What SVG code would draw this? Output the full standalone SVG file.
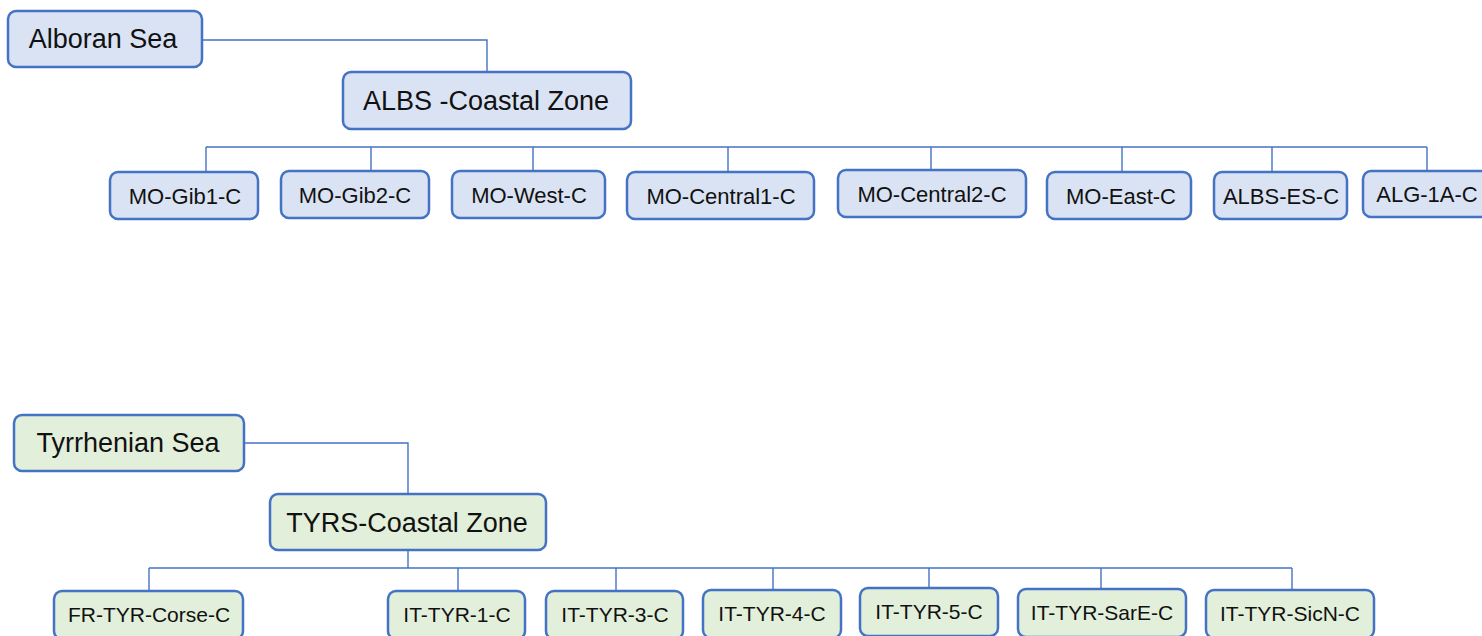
<svg xmlns="http://www.w3.org/2000/svg" width="1482" height="636" viewBox="0 0 1482 636">
<style>
.b{fill:#dae3f3;stroke:#4472c4;stroke-width:2.5}
.g{fill:#e2efda;stroke:#4472c4;stroke-width:2.5}
.t{font-family:"Liberation Sans",Arial,sans-serif;fill:#111;text-anchor:middle}
.L{font-size:27px}
.s{font-size:22px}
.s2{font-size:21px}
.c{fill:none;stroke:#4472c4;stroke-width:1.4}
</style>
<rect width="1482" height="636" fill="#fff"/>
<g id="connectors">
<polyline class="c" points="202,40 487,40 487,72"/>
<line class="c" x1="206" y1="147" x2="1427" y2="147"/>
<line class="c" x1="206" y1="147" x2="206" y2="172"/>
<line class="c" x1="371" y1="147" x2="371" y2="171"/>
<line class="c" x1="533" y1="147" x2="533" y2="171"/>
<line class="c" x1="728" y1="147" x2="728" y2="172"/>
<line class="c" x1="931" y1="147" x2="931" y2="170"/>
<line class="c" x1="1122" y1="147" x2="1122" y2="172"/>
<line class="c" x1="1272" y1="147" x2="1272" y2="172"/>
<line class="c" x1="1427" y1="147" x2="1427" y2="171"/>
<polyline class="c" points="244,443 408,443 408,494"/>
<line class="c" x1="408" y1="550" x2="408" y2="568"/>
<line class="c" x1="149" y1="568" x2="1292" y2="568"/>
<line class="c" x1="149" y1="568" x2="149" y2="591"/>
<line class="c" x1="458" y1="568" x2="458" y2="591"/>
<line class="c" x1="616" y1="568" x2="616" y2="591"/>
<line class="c" x1="773" y1="568" x2="773" y2="590"/>
<line class="c" x1="929" y1="568" x2="929" y2="588"/>
<line class="c" x1="1101" y1="568" x2="1101" y2="589"/>
<line class="c" x1="1292" y1="568" x2="1292" y2="590"/>
</g>
<g id="alboran-sea"><rect class="b" x="8" y="11" width="194" height="56" rx="8"/><text class="t L" x="103" y="48">Alboran Sea</text></g>
<g id="albs-coastal"><rect class="b" x="343" y="72" width="288" height="57" rx="8"/><text class="t L" x="486" y="110">ALBS -Coastal Zone</text></g>
<g id="mo-gib1"><rect class="b" x="110" y="172" width="148" height="47" rx="8"/><text class="t s" x="185" y="204">MO-Gib1-C</text></g>
<g id="mo-gib2"><rect class="b" x="281" y="171" width="148" height="47" rx="8"/><text class="t s" x="355" y="203">MO-Gib2-C</text></g>
<g id="mo-west"><rect class="b" x="452" y="171" width="153" height="47" rx="8"/><text class="t s" x="529" y="203">MO-West-C</text></g>
<g id="mo-central1"><rect class="b" x="627" y="172" width="187" height="47" rx="8"/><text class="t s" x="721" y="204">MO-Central1-C</text></g>
<g id="mo-central2"><rect class="b" x="838" y="170" width="188" height="47" rx="8"/><text class="t s" x="932" y="202">MO-Central2-C</text></g>
<g id="mo-east"><rect class="b" x="1047" y="172" width="144" height="47" rx="8"/><text class="t s" x="1121" y="204">MO-East-C</text></g>
<g id="albs-es"><rect class="b" x="1214" y="172" width="133" height="47" rx="8"/><text class="t s" x="1281" y="204">ALBS-ES-C</text></g>
<g id="alg-1a"><rect class="b" x="1363" y="171" width="140" height="46" rx="8"/><text class="t s" x="1427" y="202">ALG-1A-C</text></g>
<g id="tyrrhenian-sea"><rect class="g" x="14" y="415" width="230" height="56" rx="8"/><text class="t L" x="128" y="452">Tyrrhenian Sea</text></g>
<g id="tyrs-coastal"><rect class="g" x="270" y="494" width="276" height="56" rx="8"/><text class="t L" x="407" y="532">TYRS-Coastal Zone</text></g>
<g id="fr-tyr-corse"><rect class="g" x="54" y="591" width="189" height="48" rx="8"/><text class="t s2" x="149" y="622">FR-TYR-Corse-C</text></g>
<g id="it-tyr-1"><rect class="g" x="388" y="591" width="137" height="48" rx="8"/><text class="t s2" x="457" y="622">IT-TYR-1-C</text></g>
<g id="it-tyr-3"><rect class="g" x="546" y="591" width="137" height="48" rx="8"/><text class="t s2" x="615" y="622">IT-TYR-3-C</text></g>
<g id="it-tyr-4"><rect class="g" x="703" y="590" width="138" height="48" rx="8"/><text class="t s2" x="772" y="621">IT-TYR-4-C</text></g>
<g id="it-tyr-5"><rect class="g" x="860" y="588" width="138" height="48" rx="8"/><text class="t s2" x="929" y="619">IT-TYR-5-C</text></g>
<g id="it-tyr-sare"><rect class="g" x="1018" y="589" width="168" height="48" rx="8"/><text class="t s2" x="1102" y="620">IT-TYR-SarE-C</text></g>
<g id="it-tyr-sicn"><rect class="g" x="1206" y="590" width="168" height="48" rx="8"/><text class="t s2" x="1290" y="621">IT-TYR-SicN-C</text></g>
</svg>
